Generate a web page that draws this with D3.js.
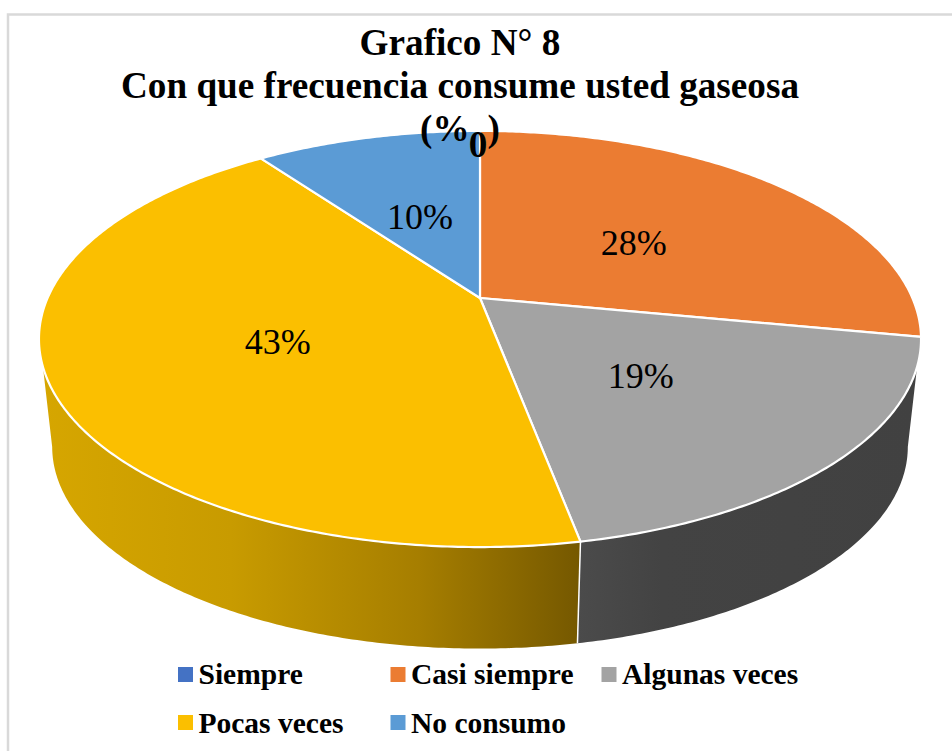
<!DOCTYPE html>
<html>
<head>
<meta charset="utf-8">
<script src="https://cdn.jsdelivr.net/npm/d3@7/dist/d3.min.js"></script>
<style>
html,body{margin:0;padding:0;background:#fff;}
svg{display:block;}
text{font-family:"Liberation Serif",serif;fill:#000;}
</style>
</head>
<body>
<svg id="chart" width="952" height="751"></svg>
<script>
const titleLines = ["Grafico N° 8", "Con que frecuencia consume usted gaseosa"];
const titleUnit = ["(%", ")"];
const categories = ["Siempre", "Casi siempre", "Algunas veces", "Pocas veces", "No consumo"];
const values = [0, 28, 19, 43, 10];
const valueLabels = ["0", "28%", "19%", "43%", "10%"];
const topColors = ["#4472c4", "#eb7c32", "#a3a3a3", "#fbbf00", "#5b9bd5"];

const svg = d3.select("#chart");

/* frame */
svg.append("path").attr("d", "M8 751V14.5H952").attr("fill", "none").attr("stroke", "#d9d9d9").attr("stroke-width", 2.5);

/* perspective disc: unit circle -> screen */
const k = -0.197, ax = 432.4, by = 200;
function project(theta, r, scale, cx, cy) {
  const u = Math.sin(theta) * r, v = -Math.cos(theta) * r, d = 1 + k * v;
  return [cx + scale * ax * u / d, cy + scale * by * v / d];
}
const top_ = { s: 1, cx: 480, cy: 298 };
const low = { s: 0.97, cx: 480, cy: 407 };
const P = (t, r, g) => project(t, r, g.s, g.cx, g.cy);

function arcPts(a0, a1, g) {
  const n = Math.max(2, Math.ceil(Math.abs(a1 - a0) / 0.01));
  return d3.range(n + 1).map(i => P(a0 + (a1 - a0) * i / n, 1, g));
}
const line = d3.line();
const slices = d3.pie().sort(null).value(d => d)(values);
const rad = d => d * Math.PI / 180;

/* visible side wall limits: tangent hull between upper and lower rims */
const topL = rad(251.2), topR = rad(108.8), lowL = rad(258.6), lowR = rad(101.4);

const defs = svg.append("defs");
const sideFill = [
  null, null,
  [[0, "#4b4b4b"], [0.25, "#434343"], [1, "#414141"]],
  [[0, "#d6a600"], [0.35, "#c89b00"], [0.7, "#a67e00"], [1, "#755800"]],
  null
];
const sides = slices.map((s, i) => ({ s, i })).filter(d => sideFill[d.i]);
sides.forEach(d => {
  const ta0 = Math.max(d.s.startAngle, topR), ta1 = Math.min(d.s.endAngle, topL);
  const la0 = Math.max(d.s.startAngle, lowR), la1 = Math.min(d.s.endAngle, lowL);
  const pts = arcPts(ta0, ta1, top_).concat(arcPts(la1, la0, low));
  const xs = pts.map(p => p[0]);
  const id = "side" + d.i;
  const g = defs.append("linearGradient").attr("id", id).attr("gradientUnits", "userSpaceOnUse")
    .attr("x1", d3.min(xs)).attr("x2", d3.max(xs)).attr("y1", 0).attr("y2", 0);
  sideFill[d.i].forEach(st => g.append("stop").attr("offset", st[0]).attr("stop-color", st[1]));
  svg.append("path").attr("d", line(pts) + "Z").attr("fill", `url(#${id})`);
});
/* divider on the wall */
const bd = slices[2].endAngle;
svg.append("path").attr("d", line([P(bd, 1, top_), P(bd, 1, low)])).attr("stroke", "#fff").attr("stroke-width", 1.5).attr("fill", "none");

/* top face */
slices.forEach((s, i) => {
  if (s.endAngle - s.startAngle <= 0) return;
  const pts = [[top_.cx, top_.cy]].concat(arcPts(s.startAngle, s.endAngle, top_));
  svg.append("path").attr("d", line(pts) + "Z").attr("fill", topColors[i])
    .attr("stroke", "#fff").attr("stroke-width", 2.2).attr("stroke-linejoin", "round");
});

/* title */
const title = svg.append("g").attr("text-anchor", "middle").attr("font-weight", "bold").attr("font-size", 37.2);
const titleY = [55, 98];
titleLines.forEach((t, i) => title.append("text").attr("x", 460).attr("y", titleY[i]).text(t));
const unit = title.append("text").attr("x", 460).attr("y", 141);
unit.append("tspan").text(titleUnit[0]);
unit.append("tspan").attr("dx", 18).text(titleUnit[1]);

/* value labels */
slices.forEach((s, i) => {
  const mid = (s.startAngle + s.endAngle) / 2;
  const zero = values[i] === 0;
  const p = P(mid, zero ? 0.9 : 0.49, top_);
  svg.append("text").attr("x", p[0] - (zero ? 2 : 0)).attr("y", p[1] + (zero ? 12 : 16))
    .attr("text-anchor", "middle").attr("font-size", zero ? 37 : 36)
    .attr("font-weight", zero ? "bold" : "normal").text(valueLabels[i]);
});

/* legend */
const legendX = [178, 390.5, 601.5, 178, 390.5];
const legendY = [674.5, 674.5, 674.5, 722.5, 722.5];
const legendBase = [684, 684, 684, 733, 733];
const legend = svg.append("g");
categories.forEach((c, i) => {
  legend.append("rect").attr("x", legendX[i]).attr("y", legendY[i] - 7.5).attr("width", 15).attr("height", 15).attr("fill", topColors[i]);
  legend.append("text").attr("x", legendX[i] + 20.5).attr("y", legendBase[i])
    .attr("font-weight", "bold").attr("font-size", 29.5).text(c);
});
</script>
</body>
</html>
